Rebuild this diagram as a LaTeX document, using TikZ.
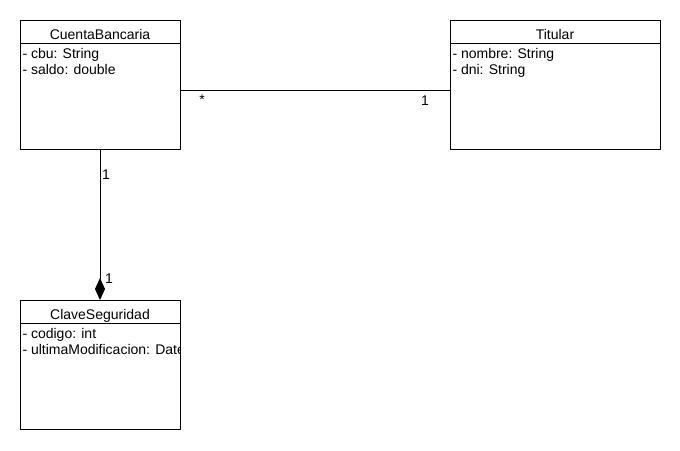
\documentclass[tikz,border=0pt]{standalone}
\usepackage{fontspec}
\setmainfont{Liberation Sans}
\usetikzlibrary{arrows.meta,calc}
\begin{document}
\begin{tikzpicture}[x=1pt,y=-1pt,
  line width=1pt,
  every node/.style={font=\fontsize{14}{16}\selectfont},
  headbox/.style={draw, anchor=north west, minimum height=23pt, inner sep=0pt, outer sep=0pt},
  bodybox/.style={draw, anchor=north west, minimum height=106pt, inner sep=0pt, outer sep=0pt},
  ttl/.style={anchor=base, inner sep=0pt},
  attr/.style={anchor=base west, inner sep=0pt},
  mult/.style={anchor=base, inner sep=0pt}]
\useasboundingbox (0,0) rectangle (680,450);
\fill[white] (0,0) rectangle (680,450);

% CuentaBancaria
\node[headbox, minimum width=160pt] (cbh) at (20,20) {};
\node[bodybox, minimum width=160pt] (cb) at (cbh.south west) {};
\node[ttl] (cbt) at (100,39.3) {CuentaBancaria};
\node[attr] (cba1) at (22,58.3) {- cbu: String};
\node[attr] (cba2) at (22,74.3) {- saldo: double};

% Titular
\node[headbox, minimum width=210pt] (tih) at (450,20) {};
\node[bodybox, minimum width=210pt] (ti) at (tih.south west) {};
\node[ttl] (tit) at (555,39.3) {Titular};
\node[attr] (tia1) at (452,58.3) {- nombre: String};
\node[attr] (tia2) at (452,74.3) {- dni: String};

% ClaveSeguridad
\node[headbox, minimum width=160pt] (csh) at (20,300) {};
\node[bodybox, minimum width=160pt] (cs) at (csh.south west) {};
\node[ttl] (cst) at (100,319.3) {ClaveSeguridad};
\begin{scope}
  \clip (cs.north west) rectangle (cs.south east);
  \node[attr] (csa1) at (22,338.3) {- codigo: int};
  \node[attr] (csa2) at (22,354.3) {- ultimaModificacion: Date};
\end{scope}

% association CuentaBancaria -- Titular
\path (cb.north east) ++(0,47) coordinate (asA);
\draw (asA) -- (asA -| ti.west);
\node[mult] (m1) at (202,104) {*};
\node[mult] (m2) at (425,105) {1};

% composition ClaveSeguridad -> CuentaBancaria
\draw[-{Diamond[length=22pt,width=10pt]}] (cb.south) -- (csh.north);
\node[mult] (m3) at (106,179) {1};
\node[mult] (m4) at (109,283) {1};
\end{tikzpicture}
\end{document}
